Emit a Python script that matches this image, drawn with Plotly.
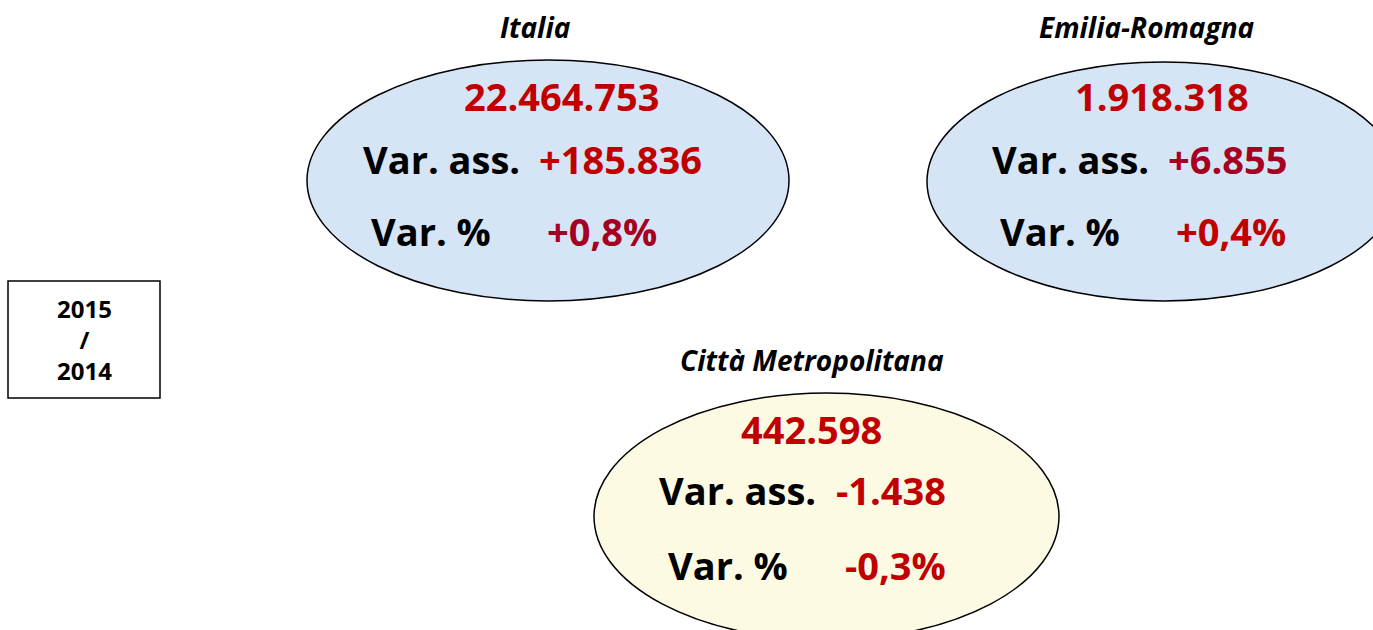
import plotly.graph_objects as go

# dati
aree = ["Italia", "Emilia-Romagna", "Città Metropolitana"]
totali = ["22.464.753", "1.918.318", "442.598"]
var_ass = ["+185.836", "+6.855", "-1.438"]
var_pct = ["+0,8%", "+0,4%", "-0,3%"]
periodo = ["2015", "/", "2014"]

# layout (pixel della pagina)
ellissi = [(307, 60, 789, 301), (927, 62, 1400, 301), (594, 393, 1059, 640)]
riempimenti = ["#D6E5F5", "#D6E5F5", "#FDFAE3"]
titolo_pos = [(535, 27), (1147, 27), (812, 360)]
totale_pos = [(562, 96), (1162, 96), (811, 429)]
ass_pos = [(361, 537, 159), (990, 1166, 159), (657, 834, 490)]
pct_pos = [(369, 545, 231), (998, 1174, 231), (666, 843, 565)]
col_ass = ["#C00000", "#A50021", "#C00000"]
col_pct = ["#A50021", "#C00000", "#C00000"]

FONT = "Open Sans"
ROSSO = "#C00000"
SIZE = 38

fig = go.Figure()
fig.add_trace(go.Scatter(x=[0, 1373], y=[0, 630], mode="markers",
                         marker=dict(opacity=0), hoverinfo="skip", showlegend=False))

for i, area in enumerate(aree):
    x0, y0, x1, y1 = ellissi[i]
    fig.add_shape(type="circle", xref="x", yref="y", x0=x0, y0=y0, x1=x1, y1=y1,
                  fillcolor=riempimenti[i], line=dict(color="black", width=1.5), layer="below")
    fig.add_annotation(x=titolo_pos[i][0], y=titolo_pos[i][1], text="<b><i>" + area + "</i></b>",
                       showarrow=False, font=dict(family=FONT, size=28, color="black"))
    fig.add_annotation(x=totale_pos[i][0], y=totale_pos[i][1], text="<b>" + totali[i] + "</b>",
                       showarrow=False, font=dict(family=FONT, size=SIZE, color=ROSSO))
    fig.add_annotation(x=ass_pos[i][0], y=ass_pos[i][2], text="<b>Var. ass.</b>", xanchor="left",
                       showarrow=False, font=dict(family=FONT, size=SIZE, color="black"))
    fig.add_annotation(x=ass_pos[i][1], y=ass_pos[i][2], text="<b>" + var_ass[i] + "</b>", xanchor="left",
                       showarrow=False, font=dict(family=FONT, size=SIZE, color=col_ass[i]))
    fig.add_annotation(x=pct_pos[i][0], y=pct_pos[i][2], text="<b>Var. %</b>", xanchor="left",
                       showarrow=False, font=dict(family=FONT, size=SIZE, color="black"))
    fig.add_annotation(x=pct_pos[i][1], y=pct_pos[i][2], text="<b>" + var_pct[i] + "</b>", xanchor="left",
                       showarrow=False, font=dict(family=FONT, size=SIZE, color=col_pct[i]))

# riquadro periodo
fig.add_shape(type="rect", xref="x", yref="y", x0=8, y0=281, x1=160, y1=398,
              line=dict(color="black", width=1.5), fillcolor="white")
fig.add_annotation(x=84, y=339, text="<br>".join("<b>" + t + "</b>" for t in periodo),
                   showarrow=False, font=dict(family=FONT, size=24, color="black"))

fig.update_xaxes(range=[0, 1373], visible=False, fixedrange=True)
fig.update_yaxes(range=[630, 0], visible=False, fixedrange=True)
fig.update_layout(width=1373, height=630, margin=dict(l=0, r=0, t=0, b=0),
                  plot_bgcolor="white", paper_bgcolor="white", showlegend=False)

fig.write_html("out.html", config={"displayModeBar": False},
               post_script="document.body.style.margin='0';")
